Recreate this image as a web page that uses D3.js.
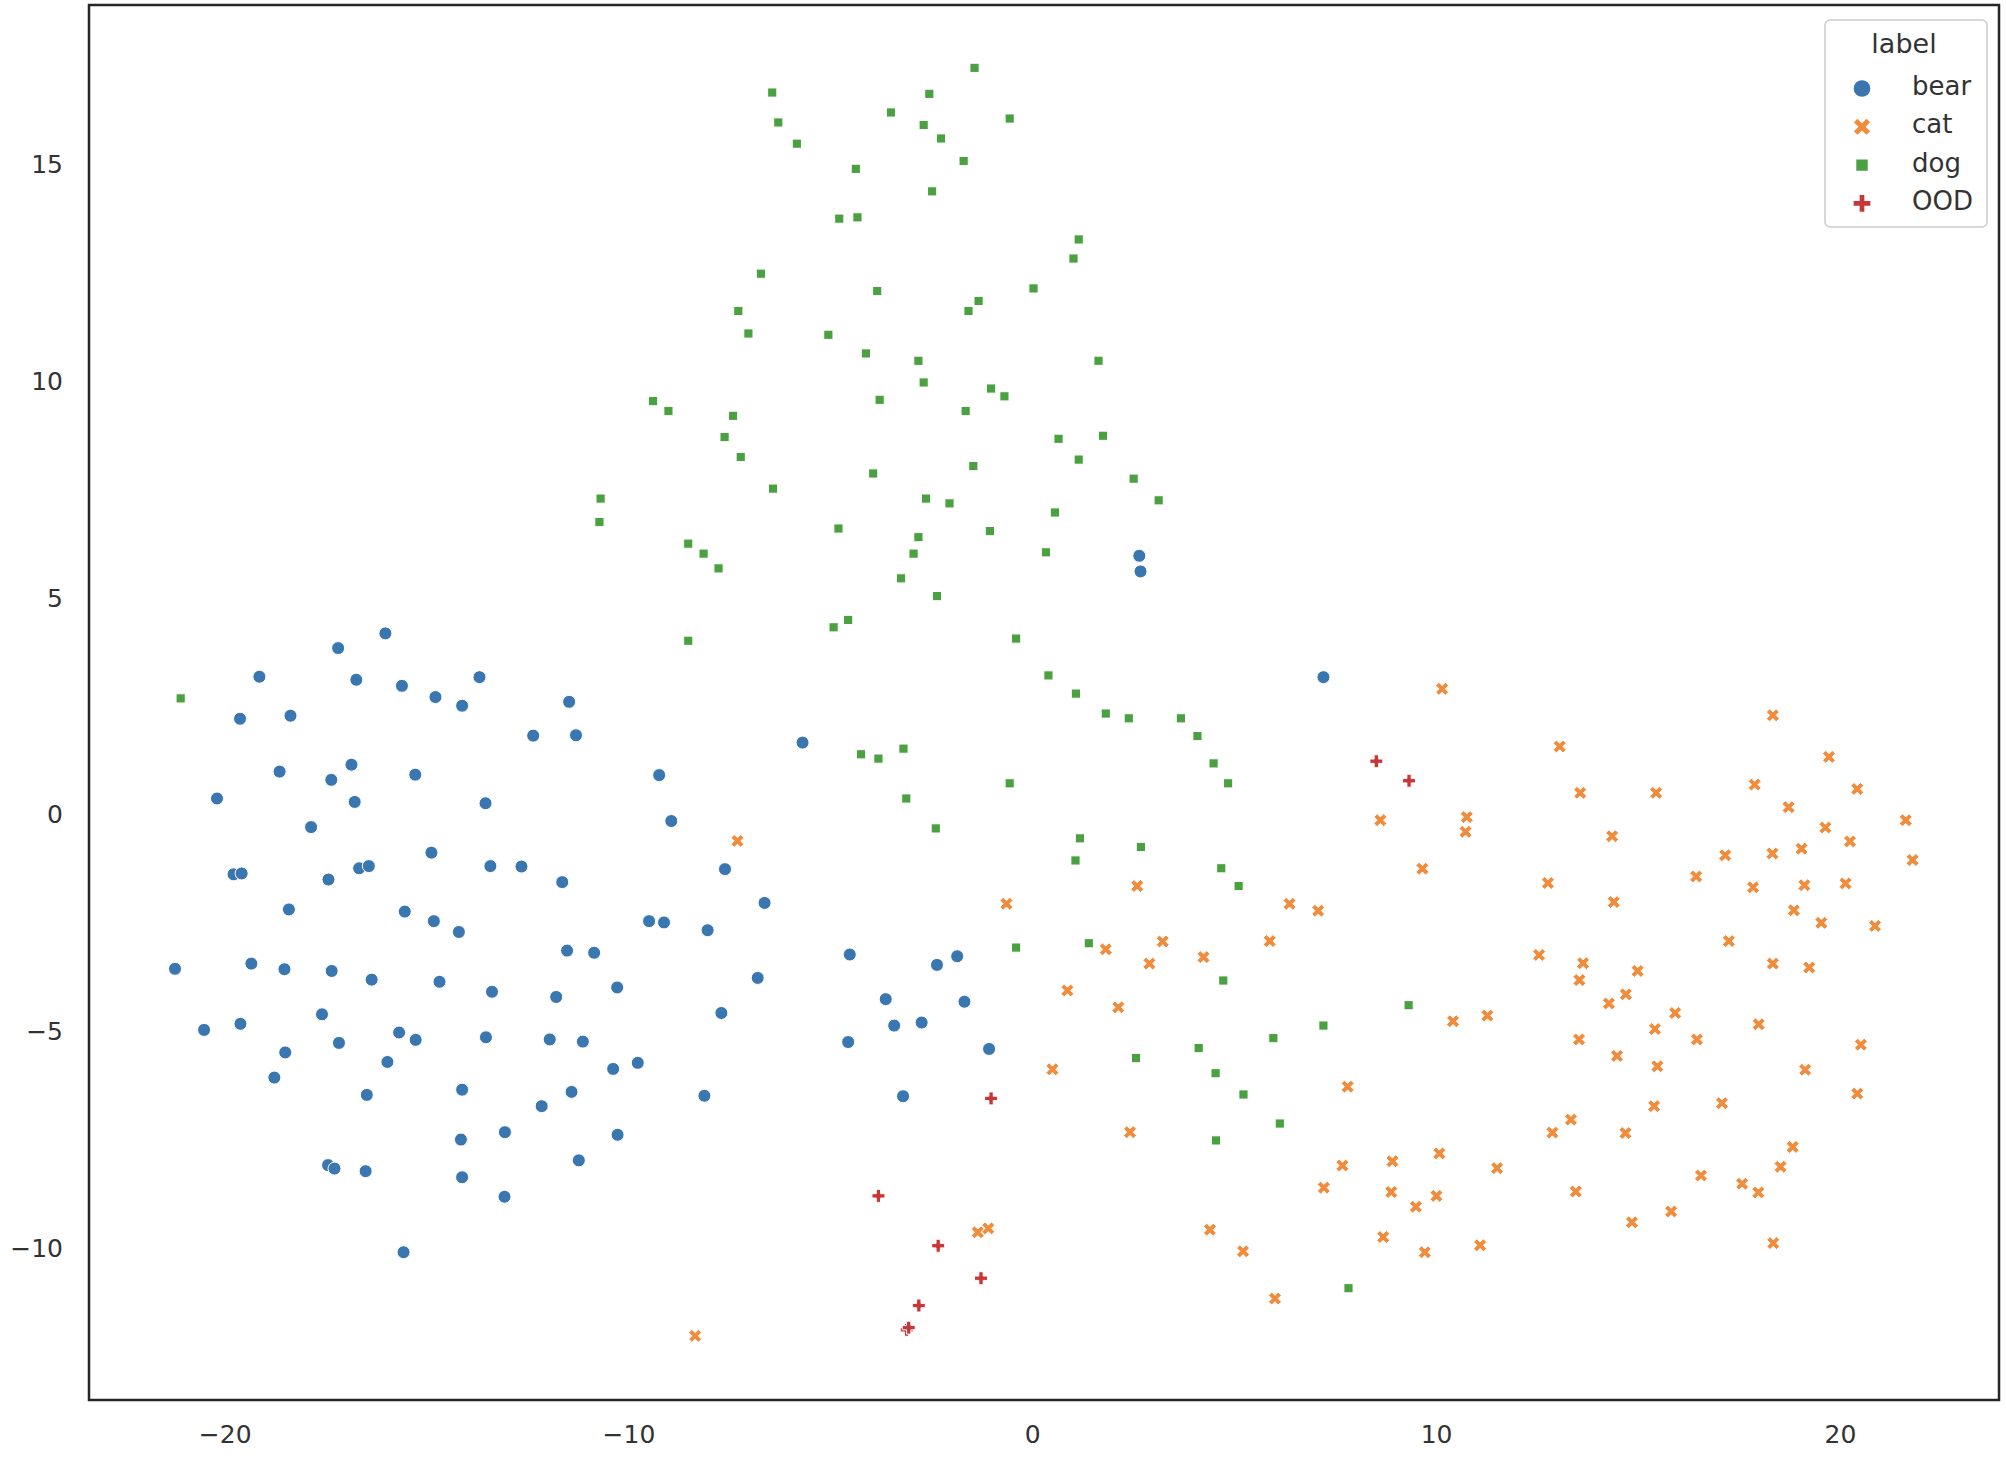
<!DOCTYPE html>
<html>
<head>
<meta charset="utf-8">
<script src="https://cdn.jsdelivr.net/npm/d3@7"></script>
<style>
  body { margin: 0; background: #fff; }
  text { font-family: "DejaVu Sans", sans-serif; fill: #333333; }
</style>
</head>
<body>
<script>

// categorías y colores
const labels = ['bear', 'cat', 'dog', 'OOD'];
const colors = ['#3a76af', '#f08c3c', '#4ba041', '#c83737'];

const xTicks = [-20, -10, 0, 10, 20];
const yTicks = [-10, -5, 0, 5, 10, 15];

// puntos
const bearX = [-16.02, -17.19, -19.14, -16.74, -15.61, -13.69, -14.78, -14.12, -11.47, -19.62,
  -18.37, -12.36, -11.30, -16.86, -18.64, -17.36, -15.28, -20.19, -16.78, -13.54,
  -17.86, -14.88, -19.78, -19.58, -17.43, -16.67, -16.43, -13.42, -12.65, -11.64,
  -18.41, -15.54, -14.82, -14.20, -11.52, -10.85, -21.23, -19.34, -18.52, -17.35,
  -16.36, -14.68, -13.38, -11.79, -10.28, -20.51, -19.61, -17.59, -17.17, -18.50,
  -18.77, -15.68, -15.27, -15.97, -16.48, -13.53, -11.95, -11.13, -10.38, -9.77,
  -8.12, -14.12, -11.41, -12.15, -14.15, -13.06, -10.27, -11.23, -17.44, -17.28,
  -16.51, -14.12, -13.07, -15.57, -5.69, -9.24, -8.94, -7.61, -6.63, -9.49,
  -9.12, -8.04, -6.80, -7.70, -4.52, -2.36, -1.86, -3.63, -1.68, -3.42,
  -2.74, -4.56, -1.07, -3.20, 2.65, 2.68, 7.21];
const bearY = [4.19, 3.85, 3.19, 3.12, 2.98, 3.18, 2.72, 2.52, 2.61, 2.22,
  2.29, 1.83, 1.84, 1.16, 1.00, 0.81, 0.93, 0.38, 0.30, 0.27,
  -0.28, -0.87, -1.37, -1.35, -1.49, -1.23, -1.18, -1.18, -1.19, -1.55,
  -2.18, -2.23, -2.45, -2.70, -3.13, -3.18, -3.55, -3.43, -3.56, -3.60,
  -3.80, -3.85, -4.08, -4.20, -3.98, -4.96, -4.82, -4.60, -5.26, -5.48,
  -6.06, -5.02, -5.19, -5.70, -6.46, -5.13, -5.18, -5.23, -5.86, -5.72,
  -6.48, -6.34, -6.39, -6.72, -7.49, -7.32, -7.38, -7.97, -8.08, -8.16,
  -8.22, -8.36, -8.81, -10.09, 1.67, 0.92, -0.14, -1.25, -2.03, -2.45,
  -2.48, -2.66, -3.76, -4.57, -3.22, -3.46, -3.26, -4.25, -4.31, -4.86,
  -4.79, -5.24, -5.40, -6.49, 5.98, 5.62, 3.18];

const catX = [-7.30, -0.64, 1.82, 0.87, 2.13, 0.50, -1.35, -1.09, -8.35, 10.15,
  8.62, 10.76, 10.73, 9.66, 2.60, 6.37, 7.08, 3.23, 2.90, 4.24,
  5.88, 10.42, 11.27, 7.81, 2.42, 7.68, 7.22, 8.92, 10.08, 11.51,
  8.89, 9.50, 10.01, 4.40, 5.22, 8.69, 9.72, 11.09, 6.01, 18.34,
  13.06, 19.73, 13.57, 15.45, 17.89, 20.43, 18.73, 14.36, 19.64, 21.63,
  20.25, 19.05, 17.16, 18.33, 21.80, 16.44, 12.77, 17.85, 19.12, 20.14,
  14.40, 18.86, 19.54, 20.87, 17.25, 12.55, 13.64, 13.55, 18.34, 19.24,
  14.99, 14.70, 14.28, 15.92, 15.42, 17.99, 13.54, 16.46, 20.52, 14.48,
  15.48, 19.14, 20.43, 15.40, 17.08, 13.34, 12.88, 14.69, 18.83, 18.53,
  16.56, 17.58, 17.98, 13.46, 14.85, 15.82, 18.35];
const catY = [-0.60, -2.05, -3.10, -4.05, -4.44, -5.87, -9.63, -9.54, -12.02, 2.91,
  -0.12, -0.05, -0.39, -1.24, -1.64, -2.05, -2.21, -2.92, -3.43, -3.28,
  -2.91, -4.76, -4.63, -6.27, -7.32, -8.09, -8.60, -7.99, -7.81, -8.15,
  -8.70, -9.04, -8.79, -9.57, -10.07, -9.74, -10.09, -9.93, -11.16, 2.30,
  1.58, 1.34, 0.51, 0.51, 0.70, 0.60, 0.18, -0.49, -0.29, -0.12,
  -0.61, -0.78, -0.93, -0.89, -1.04, -1.42, -1.57, -1.67, -1.62, -1.58,
  -2.01, -2.20, -2.49, -2.56, -2.91, -3.23, -3.42, -3.81, -3.43, -3.52,
  -3.60, -4.14, -4.35, -4.57, -4.94, -4.83, -5.18, -5.18, -5.30, -5.56,
  -5.80, -5.88, -6.43, -6.72, -6.65, -7.03, -7.33, -7.34, -7.66, -8.12,
  -8.32, -8.51, -8.71, -8.69, -9.40, -9.15, -9.88];

const dogX = [-1.43, -6.44, -2.55, -3.50, -6.29, -2.69, -0.56, -2.26, -5.83, -1.70,
  -4.37, -2.48, -4.78, -4.33, 1.15, 1.02, -6.72, -3.84, 0.03, -1.33,
  -1.58, -7.28, -7.03, -5.05, -4.12, -2.82, 1.64, -2.69, -1.02, -0.69,
  -3.78, -1.65, -9.39, -9.01, -7.41, -7.62, 0.65, 1.75, -7.22, 1.15,
  -3.94, -1.46, 2.51, 3.13, -6.42, -10.69, -10.72, -2.63, -2.05, 0.56,
  -4.80, -2.82, -1.05, -8.52, -8.14, -7.77, -2.94, 0.34, -3.25, -2.36,
  -4.56, -4.92, -8.52, -0.40, 0.40, 1.08, 1.82, 2.39, 3.68, 4.09,
  4.49, 4.85, -4.24, -3.81, -3.19, -0.56, -3.12, -2.39, 1.18, 2.69,
  1.07, -21.09, -0.40, 1.40, 4.68, 5.11, 4.73, 9.32, 7.21, 5.97,
  4.12, 2.57, 4.54, 5.23, 6.13, 4.55, 7.83];
const dogY = [17.24, 16.67, 16.64, 16.21, 15.98, 15.92, 16.07, 15.61, 15.49, 15.09,
  14.91, 14.39, 13.76, 13.79, 13.28, 12.84, 12.49, 12.09, 12.15, 11.86,
  11.63, 11.63, 11.11, 11.08, 10.65, 10.48, 10.48, 9.98, 9.84, 9.66,
  9.58, 9.32, 9.55, 9.32, 9.21, 8.72, 8.68, 8.75, 8.26, 8.20,
  7.88, 8.05, 7.76, 7.26, 7.53, 7.30, 6.76, 7.30, 7.19, 6.98,
  6.61, 6.41, 6.55, 6.26, 6.03, 5.69, 6.03, 6.06, 5.46, 5.05,
  4.50, 4.33, 4.02, 4.07, 3.22, 2.80, 2.34, 2.23, 2.23, 1.82,
  1.19, 0.73, 1.40, 1.30, 1.53, 0.73, 0.38, -0.31, -0.54, -0.74,
  -1.05, 2.69, -3.06, -2.96, -1.23, -1.64, -3.82, -4.39, -4.86, -5.15,
  -5.38, -5.61, -5.96, -6.45, -7.12, -7.51, -10.92];

const oodX = [-1.02, -3.81, -2.33, -1.27, -2.81, -3.11, -3.06, 8.52, 9.33];
const oodY = [-6.54, -8.79, -9.94, -10.69, -11.32, -11.88, -11.83, 1.24, 0.79];

// Dimensiones
const WIDTH = 2006;
const HEIGHT = 1462;

// borde de los ejes en px
const frame = { left: 89, right: 1999, top: 5, bottom: 1400 };

const svg = d3.select('body')
  .append('svg')
  .attr('width', WIDTH)
  .attr('height', HEIGHT);

const escalaX = d3.scaleLinear()
  .domain([-23.36, 23.94])
  .range([frame.left, frame.right]);

const escalaY = d3.scaleLinear()
  .domain([-13.50, 18.69])
  .range([frame.bottom, frame.top]);

// ejes sin marcas, solo etiquetas
const ejeX = d3.axisBottom(escalaX).tickValues(xTicks).tickSize(0).tickPadding(25);
const ejeY = d3.axisLeft(escalaY).tickValues(yTicks).tickSize(0).tickPadding(26);

const gX = svg.append('g')
  .attr('transform', `translate(0, ${frame.bottom})`)
  .call(ejeX);
const gY = svg.append('g')
  .attr('transform', `translate(${frame.left}, 0)`)
  .call(ejeY);

[gX, gY].forEach(g => {
  g.select('.domain').remove();
  g.selectAll('text')
    .attr('font-size', 25)
    .attr('font-family', '"DejaVu Sans", sans-serif')
    .attr('fill', '#333333');
});

// formas de marcador estilo matplotlib (tamaño nominal D)
function markerPath(kind, D) {
  if (kind === 0) {
    return d3.symbol(d3.symbolCircle, Math.PI * D * D / 4)();
  }
  if (kind === 2) {
    return d3.symbol(d3.symbolSquare, D * D / 2)();
  }
  let pts, k;
  if (kind === 1) {
    pts = [[-1,-2],[0,-1],[1,-2],[2,-1],[1,0],[2,1],[1,2],[0,1],[-1,2],[-2,1],[-1,0],[-2,-1]];
    k = D / 4;
  } else {
    pts = [[-1,-3],[1,-3],[1,-1],[3,-1],[3,1],[1,1],[1,3],[-1,3],[-1,1],[-3,1],[-3,-1],[-1,-1]];
    k = D / 6;
  }
  return 'M' + pts.map(p => `${p[0] * k},${p[1] * k}`).join('L') + 'Z';
}

const series = [
  { xs: bearX, ys: bearY },
  { xs: catX, ys: catY },
  { xs: dogX, ys: dogY },
  { xs: oodX, ys: oodY },
];

const contenedor = svg.append('g');

series.forEach((s, i) => {
  const pts = s.xs.map((x, j) => ({ x: x, y: s.ys[j] }));
  contenedor.append('g')
    .selectAll('path')
    .data(pts)
    .enter()
    .append('path')
    .attr('d', markerPath(i, 13))
    .attr('transform', d => `translate(${escalaX(d.x)}, ${escalaY(d.y)})`)
    .attr('fill', colors[i])
    .attr('stroke', '#fff')
    .attr('stroke-width', 1);
});

// marco de los ejes
svg.append('rect')
  .attr('x', frame.left)
  .attr('y', frame.top)
  .attr('width', frame.right - frame.left)
  .attr('height', frame.bottom - frame.top)
  .attr('fill', 'none')
  .attr('stroke', '#262626')
  .attr('stroke-width', 2.5);

// leyenda
const leyenda = svg.append('g').attr('transform', 'translate(1825, 20)');

leyenda.append('rect')
  .attr('width', 162)
  .attr('height', 207)
  .attr('rx', 5)
  .attr('fill', '#fff')
  .attr('fill-opacity', 0.8)
  .attr('stroke', '#cccccc')
  .attr('stroke-width', 1.5);

leyenda.append('text')
  .attr('x', 79)
  .attr('y', 33)
  .attr('text-anchor', 'middle')
  .attr('font-size', 27)
  .text('label');

const filas = leyenda.selectAll('g.fila')
  .data(labels)
  .enter()
  .append('g')
  .attr('class', 'fila')
  .attr('transform', (d, i) => `translate(0, ${75 + i * 38.3})`);

filas.append('path')
  .attr('d', (d, i) => markerPath(i, 18))
  .attr('transform', 'translate(37, -6.5)')
  .attr('fill', (d, i) => colors[i])
  .attr('stroke', '#fff')
  .attr('stroke-width', 1.3);

filas.append('text')
  .attr('x', 87)
  .attr('font-size', 26)
  .text(d => d);

</script>
</body>
</html>
